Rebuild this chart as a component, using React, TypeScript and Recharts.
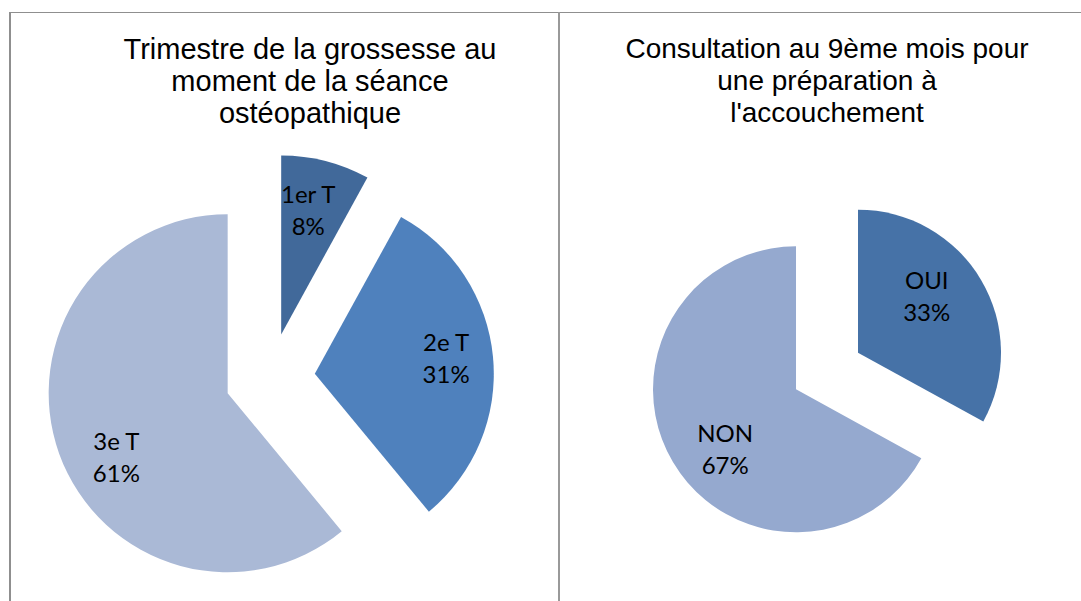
import React from "react";
import { PieChart, Pie, Cell } from "recharts";

// trimestre de la grossesse (graphique de gauche)
const trimestreNames = ["1er T", "2e T", "3e T"];
const trimestreValues = [8, 31, 61];

// consultation au 9ème mois (graphique de droite)
const consultNames = ["OUI", "NON"];
const consultValues = [33, 67];

const titleLeft = ["Trimestre de la grossesse au", "moment de la séance", "ostéopathique"];
const titleRight = ["Consultation au 9ème mois pour", "une préparation à", "l'accouchement"];

const leftColors = ["#41699A", "#4F81BD", "#AAB9D6"];
const rightColors = ["#4672A7", "#95A9CF"];
// petits ajustements de position des étiquettes (placement "meilleur ajustement" d'Excel)
const leftNudge = [[-5, 0], [3, -4], [10, 20]];
const rightNudge = [[-10, -11], [8, 13]];

const RAD = Math.PI / 180;
const labelFont = "Lato, 'Open Sans', sans-serif";

type SliceProps = {
  names: string[];
  values: number[];
  colors: string[];
  nudge: number[][];
  width: number;
  height: number;
  cx: number;
  cy: number;
  radius: number;
  explode: number;
  labelRatio: number;
};

function ExplodedPie({ names, values, colors, nudge, width, height, cx, cy, radius, explode, labelRatio }: SliceProps) {
  const data = names.map((name, i) => ({ name, value: values[i] }));
  const total = values.reduce((a, b) => a + b, 0);
  let cum = 0;
  // décalage de chaque part le long de son angle médian (comme "éclater" dans Excel)
  const shifts = values.map((v) => {
    const t = ((cum + v / 2) / total) * 2 * Math.PI;
    cum += v;
    return [explode * Math.sin(t), -explode * Math.cos(t)];
  });

  const makeLabel = (idx: number) => (p: any) => {
    if (p.index !== idx) return null;
    const r = p.outerRadius * labelRatio;
    const x = p.cx + r * Math.cos(-p.midAngle * RAD) + nudge[idx][0];
    const y = p.cy + r * Math.sin(-p.midAngle * RAD) + nudge[idx][1];
    return (
      <g>
        <text x={x} y={y - 16} textAnchor="middle" dominantBaseline="central" fontFamily={labelFont} fontSize={24} fill="#000">
          {p.name}
        </text>
        <text x={x} y={y + 16} textAnchor="middle" dominantBaseline="central" fontFamily={labelFont} fontSize={24} fill="#000">
          {Math.round(p.percent * 100)}%
        </text>
      </g>
    );
  };

  return (
    <PieChart width={width} height={height} margin={{ top: 0, right: 0, bottom: 0, left: 0 }}>
      {data.map((_, i) => (
        <Pie
          key={i}
          data={data}
          dataKey="value"
          nameKey="name"
          cx={cx + shifts[i][0]}
          cy={cy + shifts[i][1]}
          outerRadius={radius}
          startAngle={90}
          endAngle={-270}
          stroke="none"
          labelLine={false}
          label={makeLabel(i)}
          isAnimationActive={false}
        >
          {data.map((_, j) => (
            <Cell key={j} fill={j === i ? colors[j] : "transparent"} />
          ))}
        </Pie>
      ))}
    </PieChart>
  );
}

function Title({ lines, center, size }: { lines: string[]; center: number; size: number }) {
  return (
    <div
      style={{
        position: "absolute",
        left: center - 260,
        top: 33,
        width: 520,
        textAlign: "center",
        fontFamily: "'Liberation Sans', Arial, sans-serif",
        fontSize: size,
        lineHeight: "32px",
        color: "#000",
      }}
    >
      {lines.map((l, i) => (
        <div key={i}>{l}</div>
      ))}
    </div>
  );
}

export default function App() {
  return (
    <div style={{ position: "fixed", left: 0, top: 0, width: 1081, height: 601, background: "#fff", overflow: "hidden" }}>
      <div style={{ position: "absolute", left: 9, top: 12, width: 1072, height: 1, background: "#8f8f8f" }} />
      <div style={{ position: "absolute", left: 9, top: 12, width: 2, height: 589, background: "#8f8f8f" }} />
      <div style={{ position: "absolute", left: 558, top: 12, width: 2, height: 589, background: "#999" }} />

      <div style={{ position: "absolute", left: 0, top: 0 }}>
        <ExplodedPie
          names={trimestreNames}
          values={trimestreValues}
          colors={leftColors}
          nudge={leftNudge}
          width={558}
          height={601}
          cx={270}
          cy={378}
          radius={179}
          explode={45}
          labelRatio={0.72}
        />
      </div>
      <div style={{ position: "absolute", left: 560, top: 0 }}>
        <ExplodedPie
          names={consultNames}
          values={consultValues}
          colors={rightColors}
          nudge={rightNudge}
          width={521}
          height={601}
          cx={267}
          cy={371}
          radius={143}
          explode={36}
          labelRatio={0.64}
        />
      </div>

      <Title lines={titleLeft} center={310} size={29} />
      <Title lines={titleRight} center={827} size={28} />
    </div>
  );
}
